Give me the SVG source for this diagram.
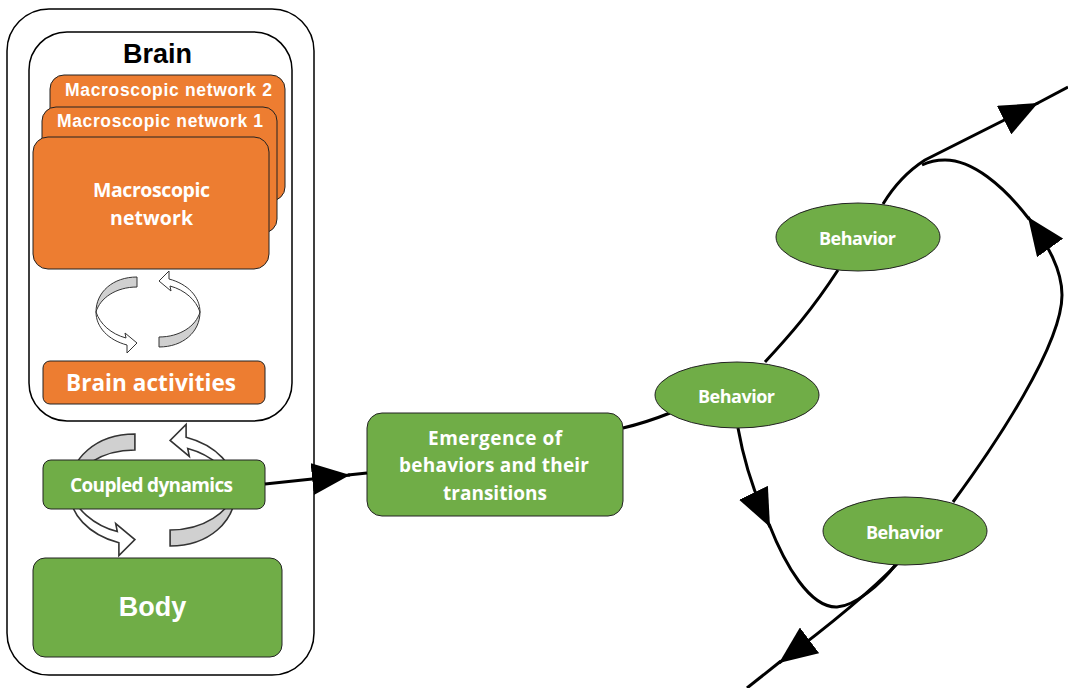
<svg xmlns="http://www.w3.org/2000/svg" width="1068" height="688" viewBox="0 0 1068 688">
<style>
.frame{fill:#fff;stroke:#000;stroke-width:1.5}
.org{fill:#ED7D31;stroke:#222;stroke-width:1}
.grn{fill:#70AD47;stroke:#222;stroke-width:1}
.ar{font-family:"Liberation Sans",Arial,sans-serif;font-weight:bold;text-anchor:middle}
.cal{font-family:"Open Sans",Lato,sans-serif;font-weight:bold;text-anchor:middle;fill:#fff;font-variant-ligatures:none}
.w{fill:#fff}
.conn{fill:none;stroke:#000;stroke-width:3}
.gr{fill:#D0D0D0;stroke:#333;stroke-width:1}
.wh{fill:#fff;stroke:#333;stroke-width:1}
</style>
<defs>
<marker id="tri" markerUnits="userSpaceOnUse" markerWidth="40" markerHeight="32" refX="38" refY="16" orient="auto" viewBox="0 0 40 32">
<path d="M0,0 L38,16 L0,32 Z" fill="#000"/>
</marker>
<g id="halfloop">
<path class="gr" d="M-11,-35 C-35,-35 -52,-20 -52,0 C-48,-14 -32,-25 -11,-25 Z"/>
<path class="wh" d="M-52,0 C-52,15 -40,28 -21,33 L-21,41 L-11,31 L-23,21 L-22,26 C-37,22 -48,12 -52,0 Z"/>
</g>
<g id="loop">
<use href="#halfloop"/>
<use href="#halfloop" transform="rotate(180)"/>
</g>
</defs>
<rect width="1068" height="688" fill="#fff"/>

<g id="outer-frame"><rect class="frame" x="7" y="9" width="307" height="666" rx="42"/></g>
<g id="brain-frame">
<rect class="frame" x="29" y="32" width="263" height="389" rx="38"/>
<text class="ar" x="157.5" y="63" font-size="27" fill="#000">Brain</text>
</g>

<g id="macro2">
<rect class="org" x="50" y="75" width="235" height="126" rx="14"/>
<text class="ar w" x="168.5" y="96" font-size="17.5" textLength="207" lengthAdjust="spacing">Macroscopic network 2</text>
</g>
<g id="macro1">
<rect class="org" x="42" y="107" width="235" height="126" rx="14"/>
<text class="ar w" x="160" y="127" font-size="17.5" textLength="206" lengthAdjust="spacing">Macroscopic network 1</text>
</g>
<g id="macro">
<rect class="org" x="33" y="137" width="236" height="132" rx="15"/>
<text class="cal" x="151.5" y="197" font-size="19.5" textLength="117" lengthAdjust="spacing">Macroscopic</text>
<text class="cal" x="151.5" y="225" font-size="19.5" textLength="83" lengthAdjust="spacing">network</text>
</g>

<g id="brain-loop"><use href="#loop" transform="translate(148,312)"/></g>

<g id="brain-activities">
<rect class="org" x="43" y="361" width="222" height="43" rx="7"/>
<text class="cal" x="151" y="391" font-size="22.5" textLength="170" lengthAdjust="spacing">Brain activities</text>
</g>

<g id="coupled-loop"><use href="#loop" transform="translate(152.5,490) scale(1.6)"/></g>

<g id="coupled">
<rect class="grn" x="43" y="460" width="222" height="49" rx="8"/>
<text class="cal" x="151.5" y="492" font-size="19" textLength="163" lengthAdjust="spacing">Coupled dynamics</text>
</g>

<g id="body">
<rect class="grn" x="33" y="558" width="249" height="99" rx="12"/>
<text class="ar w" x="152.5" y="616" font-size="27">Body</text>
</g>

<g id="emergence">
<rect class="grn" x="367" y="413" width="256" height="103" rx="15"/>
<text class="cal" x="495" y="445" font-size="19" textLength="134" lengthAdjust="spacing">Emergence of</text>
<text class="cal" x="494" y="472" font-size="19" textLength="190" lengthAdjust="spacing">behaviors and their</text>
<text class="cal" x="495" y="500" font-size="19" textLength="104" lengthAdjust="spacing">transitions</text>
</g>

<g id="connectors">
<path class="conn" d="M265,484 L350,475" marker-end="url(#tri)"/>
<path class="conn" d="M348,475 L367,473"/>
<path class="conn" d="M623,428 C640,424 655,419 670,413"/>
<path class="conn" d="M765,362 C790,335 812,310 838,270"/>
<path class="conn" d="M883,204 Q900,176 925,160 L1038,103" marker-end="url(#tri)"/>
<path class="conn" d="M1036,104 L1068,87"/>
<path class="conn" d="M953,502 C995,445 1062,345 1062,295 C1062,270 1048,245 1028,217" marker-end="url(#tri)"/>
<path class="conn" d="M1029,219 C1003,185 972,160 945,160 C935,160 928,162 922,165"/>
<path class="conn" d="M738,428 C744,462 756,498 770,527" marker-end="url(#tri)"/>
<path class="conn" d="M769,524 C785,565 810,608 837,607 C855,606 880,585 897,563"/>
<path class="conn" d="M898,563 C870,592 830,625 779,663" marker-end="url(#tri)"/>
<path class="conn" d="M781,661 L747,688"/>
</g>

<g id="behavior1">
<ellipse class="grn" cx="858" cy="237" rx="82" ry="34"/>
<text class="cal" x="857.5" y="245" font-size="18" textLength="77" lengthAdjust="spacing">Behavior</text>
</g>
<g id="behavior2">
<ellipse class="grn" cx="737" cy="395" rx="82" ry="33"/>
<text class="cal" x="736.5" y="403" font-size="18" textLength="77" lengthAdjust="spacing">Behavior</text>
</g>
<g id="behavior3">
<ellipse class="grn" cx="905" cy="531" rx="82" ry="34"/>
<text class="cal" x="904.5" y="539" font-size="18" textLength="77" lengthAdjust="spacing">Behavior</text>
</g>
</svg>
